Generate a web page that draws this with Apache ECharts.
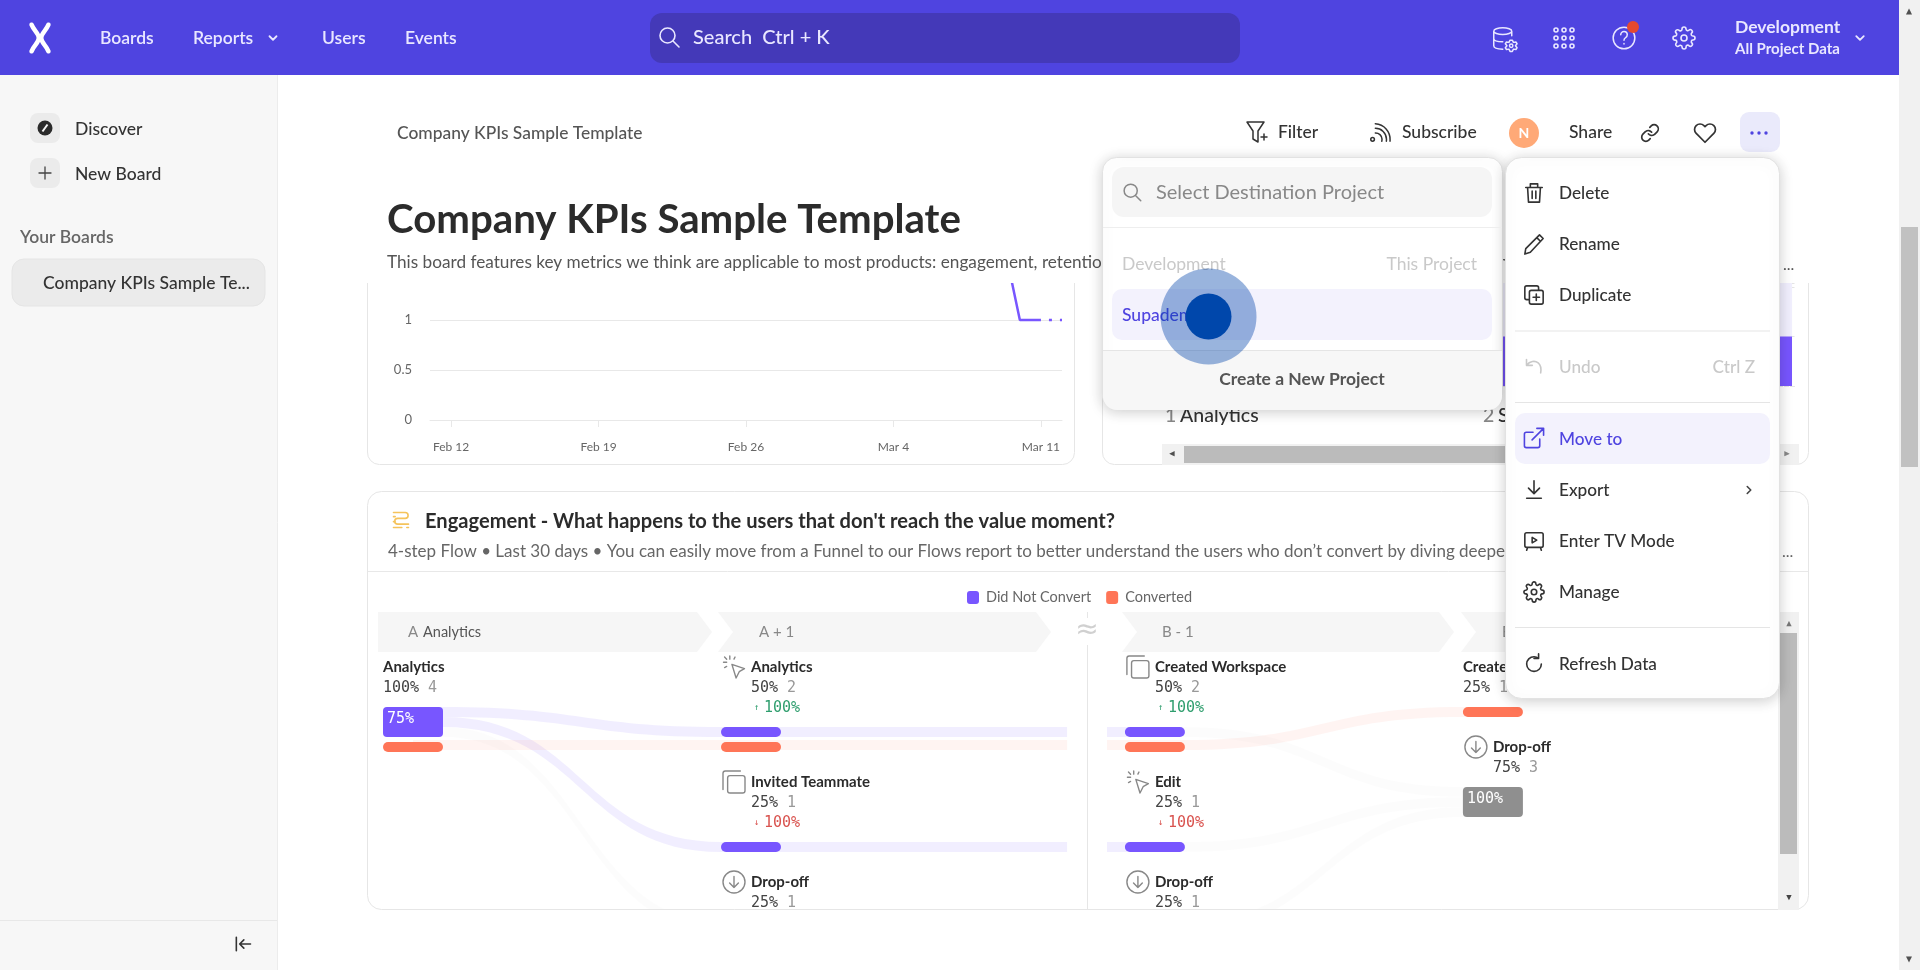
<!DOCTYPE html>
<html>
<head>
<meta charset="utf-8">
<title>Company KPIs Sample Template</title>
<script src="https://cdn.jsdelivr.net/npm/echarts@6/dist/echarts.min.js"></script>
<style>
html, body { margin: 0; padding: 0; background: #fff; overflow: hidden; }
#main { width: 1920px; height: 970px; }
</style>
</head>
<body>
<div id="main"></div>
<script>
// line chart (top left card)
const lineDates = ['Feb 11', 'Feb 12', 'Feb 13', 'Feb 14', 'Feb 15', 'Feb 16', 'Feb 17', 'Feb 18', 'Feb 19', 'Feb 20', 'Feb 21',
    'Feb 22', 'Feb 23', 'Feb 24', 'Feb 25', 'Feb 26', 'Feb 27', 'Feb 28', 'Feb 29', 'Mar 1', 'Mar 2', 'Mar 3', 'Mar 4', 'Mar 5',
    'Mar 6', 'Mar 7', 'Mar 8', 'Mar 9', 'Mar 10', 'Mar 11', 'Mar 12'];
const lineValues = [null, null, null, null, null, null, null, null, null, null, null, null, null, null, null, null, null, null,
    null, null, null, null, null, null, null, null, null, 2, 1, 1, null];
const linePartial = [null, null, null, null, null, null, null, null, null, null, null, null, null, null, null, null, null, null,
    null, null, null, null, null, null, null, null, null, null, null, 1, 1];

// funnel chart (top right card, mostly covered by the menus)
const funnelSteps = ['Analytics', 'Sign Up'];
const funnelValues = [100, 50];

// flow chart
const stepTitles = ['A', 'A + 1', 'B - 1', 'B'];
const nodeSteps = [0, 1, 1, 1, 2, 2, 2, 3, 3];
const nodeNames = ['Analytics', 'Analytics', 'Invited Teammate', 'Drop-off', 'Created Workspace', 'Edit', 'Drop-off', 'Created Workspace', 'Drop-off'];
const nodeIcons = ['', 'click', 'copy', 'drop', 'copy', 'click', 'drop', '', 'drop'];
const nodeShares = [100, 50, 25, 25, 50, 25, 25, 25, 75];
const nodeUsers = [4, 2, 1, 1, 2, 1, 1, 1, 3];
const nodeDeltas = [null, 100, -100, null, 100, -100, null, null, null];
const nodeDidNot = [3, 1, 1, 0, 1, 1, 0, 0, 0];
const nodeConverted = [1, 1, 0, 0, 1, 0, 0, 1, 0];
const nodeDropped = [0, 0, 0, 1, 0, 0, 1, 0, 3];
const linkFrom = [0, 0, 0, 0, 1, 1, 2, 3, 4, 4, 5, 6];
const linkTo = [1, 2, 3, 1, 4, 4, 5, 6, 7, 8, 8, 8];
const linkUsers = [1, 1, 1, 1, 1, 1, 1, 1, 1, 1, 1, 1];
const linkKinds = ['did', 'did', 'did', 'conv', 'did', 'conv', 'did', 'drop', 'conv', 'did', 'did', 'drop'];

const FONT = 'Lato, "Noto Sans", sans-serif';
const MONO = '"DejaVu Sans Mono", monospace';
const PURPLE = '#7856ff';
const ORANGE = '#ff7557';
const GRAY = '#8f8f8f';
const ICONS = {
    search: 'M10.5 3a7.5 7.5 0 1 0 0 15a7.5 7.5 0 1 0 0-15zM16 16l6 6',
    chevDown: 'M6 9l6 6l6-6',
    chevRight: 'M9 6l6 6l-6 6',
    db: 'M2 5a8 3 0 1 0 16 0a8 3 0 1 0-16 0M2 5v13c0 2 4 3 8 3M18 5v4M2 11.5c0 2 4 3 8 3M18.500 13l1 2l2.200-.300l1 1.500l-1.400 1.800l1.400 1.800l-1 1.500l-2.200-.300l-1 2h-2l-1-2l-2.200.300l-1-1.500l1.400-1.800l-1.400-1.800l1-1.500l2.200.300l1-2zM17.500 16.500a1.500 1.500 0 1 0 0 3a1.500 1.500 0 1 0 0-3z',
    dots: 'M4 2a2 2 0 1 0 0 4a2 2 0 1 0 0-4zM12 2a2 2 0 1 0 0 4a2 2 0 1 0 0-4zM20 2a2 2 0 1 0 0 4a2 2 0 1 0 0-4zM4 10a2 2 0 1 0 0 4a2 2 0 1 0 0-4zM12 10a2 2 0 1 0 0 4a2 2 0 1 0 0-4zM20 10a2 2 0 1 0 0 4a2 2 0 1 0 0-4zM4 18a2 2 0 1 0 0 4a2 2 0 1 0 0-4zM12 18a2 2 0 1 0 0 4a2 2 0 1 0 0-4zM20 18a2 2 0 1 0 0 4a2 2 0 1 0 0-4z',
    help: 'M12 2a10 10 0 1 0 0 20a10 10 0 1 0 0-20zM9 9a3 3 0 1 1 4.5 2.6c-1 .6-1.5 1.2-1.5 2.4M12 17v.6',
    gear: 'M19.4 15a1.65 1.65 0 0 0 .33 1.82l.06.06a2 2 0 0 1 0 2.83 2 2 0 0 1-2.83 0l-.06-.06a1.65 1.65 0 0 0-1.82-.33 1.65 1.65 0 0 0-1 1.51V21a2 2 0 0 1-2 2 2 2 0 0 1-2-2v-.09A1.65 1.65 0 0 0 9 19.4a1.65 1.65 0 0 0-1.82.33l-.06.06a2 2 0 0 1-2.83 0 2 2 0 0 1 0-2.83l.06-.06a1.65 1.65 0 0 0 .33-1.82 1.65 1.65 0 0 0-1.51-1H3a2 2 0 0 1-2-2 2 2 0 0 1 2-2h.09A1.65 1.65 0 0 0 4.6 9a1.65 1.65 0 0 0-.33-1.82l-.06-.06a2 2 0 0 1 0-2.83 2 2 0 0 1 2.83 0l.06.06a1.65 1.65 0 0 0 1.82.33H9a1.65 1.65 0 0 0 1-1.51V3a2 2 0 0 1 2-2 2 2 0 0 1 2 2v.09a1.65 1.65 0 0 0 1 1.51 1.65 1.65 0 0 0 1.82-.33l.06-.06a2 2 0 0 1 2.83 0 2 2 0 0 1 0 2.83l-.06.06a1.65 1.65 0 0 0-.33 1.82V9a1.65 1.65 0 0 0 1.51 1H21a2 2 0 0 1 2 2 2 2 0 0 1-2 2h-.09a1.65 1.65 0 0 0-1.51 1zM12 9a3 3 0 1 0 0 6a3 3 0 1 0 0-6z',
    filter: 'M2 2h17l-6 9v11l-5-3v-8zM19 14v6M16 17h6',
    rss: 'M8 13a7 7 0 0 1 7 9M8 8a12 12 0 0 1 12 14M8 3a17 17 0 0 1 16 19M5 18a2 2 0 1 0 0 4a2 2 0 1 0 0-4z',
    link: 'M10 13a5 5 0 0 0 7.54.54l3-3a5 5 0 0 0-7.07-7.07l-1.72 1.71M14 11a5 5 0 0 0-7.54-.54l-3 3a5 5 0 0 0 7.07 7.07l1.71-1.71',
    heart: 'M20.84 4.61a5.5 5.5 0 0 0-7.78 0L12 5.67l-1.06-1.06a5.5 5.5 0 0 0-7.78 7.78l1.06 1.06L12 21.23l7.78-7.78 1.06-1.06a5.5 5.5 0 0 0 0-7.78z',
    trash: 'M3 6h18M8 6V2h8v4M5 6l1 16h12l1-16M10 10v8M14 10v8',
    pencil: 'M18 2l4 4L8 21l-6 2l1-6zM15 5l4 4',
    duplicate: 'M9 7h11a2 2 0 0 1 2 2v11a2 2 0 0 1-2 2H9a2 2 0 0 1-2-2V9a2 2 0 0 1 2-2zM17 7V4a2 2 0 0 0-2-2H4a2 2 0 0 0-2 2v11a2 2 0 0 0 2 2h3M14.5 11v7M11 14.5h7',
    undo: 'M3 3v7h7M3 10c4-5 10-6 14-3c3 2.500 4 6 3 12',
    moveTo: 'M18 13v7a2 2 0 0 1-2 2H4a2 2 0 0 1-2-2V8a2 2 0 0 1 2-2h7M15 2h7v7M10 14L22 2',
    exportTo: 'M12 2v13M6 10l6 6l6-6M4 21h16',
    tv: 'M4 3h16a2 2 0 0 1 2 2v12a2 2 0 0 1-2 2H4a2 2 0 0 1-2-2V5a2 2 0 0 1 2-2zM10 8v6l5-3zM5 19l-1 3M19 19l1 3',
    refresh: 'M20 12a8 8 0 1 1-3-6.200M17 1v5h-5',
    plus: 'M12 4v16M4 12h16',
    collapse: 'M4 4v16M21 12H8M13 7l-5 5l5 5',
    flows: 'M3 3h14a3 3 0 0 1 0 7H8a3 3 0 0 0 0 7h13M3 8h2M3 14h2M19 21h2M3 21h10',
    click: 'M9 9l12 4l-5 3l-3 6zM7 1v3M1 7h3M2 2l2 2M2 12l2-1M12 2l-1 2',
    copy: 'M9 7h11a2 2 0 0 1 2 2v11a2 2 0 0 1-2 2H9a2 2 0 0 1-2-2V9a2 2 0 0 1 2-2zM18 3H5a2 2 0 0 0-2 2v14',
    drop: 'M12 2a10 10 0 1 0 0 20a10 10 0 1 0 0-20zM12 7v10M8 13l4 4l4-4',
    logo: 'M5 1c2 5 6 7 6 11s-4 6-6 11M19 1c-2 5-6 7-6 11s4 6 6 11'
};

// the graphic component has no plain path element, so paths are registered as shapes
let shapeCount = 0;
function shapeFor(d) {
    const name = 'uipath' + (shapeCount++);
    echarts.graphic.registerShape(name, echarts.graphic.extendPath(d, {}));
    return name;
}

// page furniture drawn with the graphic component
const ui = [];
function rect(x, y, w, h, fill, z, r, extra) {
    ui.push({ type: 'rect', z: z, silent: true, shape: { x: x, y: y, width: w, height: h, r: r || 0 },
        style: Object.assign({ fill: fill }, extra || {}) });
}
function hline(x1, x2, y, color, z) {
    ui.push({ type: 'line', z: z, silent: true, shape: { x1: x1, y1: y, x2: x2, y2: y }, style: { stroke: color, lineWidth: 1 } });
}
function label(str, x, y, font, color, z, align) {
    ui.push({ type: 'text', z: z, silent: true, style: { text: str, x: x, y: y + 1, font: font, fill: color, align: align || 'left', verticalAlign: 'middle' } });
}
function icon(name, cx, cy, size, color, z, width, fill) {
    const s = size / 24;
    ui.push({ type: shapeFor(ICONS[name]), z: z, silent: true, x: cx - size / 2, y: cy - size / 2, scaleX: s, scaleY: s,
        style: { stroke: color, lineWidth: width || 1.6, strokeNoScale: true, fill: fill || 'none', lineCap: 'round', lineJoin: 'round' } });
}
function shapePath(d, z, style) {
    ui.push({ type: shapeFor(d), z: z, silent: true, style: style });
}
function circle(cx, cy, r, fill, z) {
    ui.push({ type: 'circle', z: z, silent: true, shape: { cx: cx, cy: cy, r: r }, style: { fill: fill } });
}

// covers that clip the scrolled board
rect(278, 75, 1622, 208, '#fff', 10);
rect(278, 910, 1622, 60, '#fff', 10);

// header
rect(0, 0, 1899, 75, '#4f44e0', 12);
icon('logo', 40, 38, 29, '#fff', 13, 4.5);
[['Boards', 100], ['Reports', 193], ['Users', 322], ['Events', 405]].forEach(function (it) {
    label(it[0], it[1], 37, '600 17.5px ' + FONT, '#e9e7ff', 13);
});
icon('chevDown', 273, 38, 14, '#e9e7ff', 13, 1.8);
rect(650, 13, 590, 50, '#4439b8', 13, 12);
icon('search', 669, 37, 24, '#e9e7ff', 14, 1.6);
label('Search  Ctrl + K', 693, 37, '500 20px ' + FONT, '#e9e7ff', 14);
icon('db', 1505, 39, 27, '#e9e7ff', 13, 1.5);
icon('dots', 1564, 38, 24, '#e9e7ff', 13, 1.6);
icon('help', 1624, 38, 26, '#e9e7ff', 13, 1.5);
circle(1633, 27, 6, '#e5492f', 14);
icon('gear', 1684, 38, 24, '#e9e7ff', 13, 1.6);
label('Development', 1735, 26, '700 17.5px ' + FONT, '#e9e7ff', 13);
label('All Project Data', 1735, 48, '700 15px ' + FONT, '#e9e7ff', 13);
icon('chevDown', 1860, 38, 15, '#e9e7ff', 13, 1.8);

// window scrollbar
rect(1899, 0, 21, 970, '#f1f1f1', 14);
rect(1901, 227, 17, 240, '#c1c1c1', 15);
label('▲', 1909, 10, '10px ' + MONO, '#505050', 15, 'center');
label('▼', 1909, 958, '10px ' + MONO, '#505050', 15, 'center');

// sidebar
rect(0, 75, 277, 895, '#f7f7f7', 12);
ui.push({ type: 'line', z: 12, silent: true, shape: { x1: 277.5, y1: 75, x2: 277.5, y2: 970 }, style: { stroke: '#ececec' } });
rect(30, 113, 30, 30, '#ebebeb', 13, 8);
circle(45, 128, 7.5, '#2b2b2b', 14);
ui.push({ type: 'line', z: 15, silent: true, shape: { x1: 42.5, y1: 131.5, x2: 47.5, y2: 124.5 }, style: { stroke: '#f7f7f7', lineWidth: 2 } });
label('Discover', 75, 128, '500 17.5px ' + FONT, '#333', 13);
rect(30, 158, 30, 30, '#ebebeb', 13, 8);
icon('plus', 45, 173, 18, '#444', 14, 1.3);
label('New Board', 75, 173, '500 17.5px ' + FONT, '#333', 13);
label('Your Boards', 20, 236, '600 17.5px ' + FONT, '#666', 13);
rect(12, 259, 253, 47, '#ebebeb', 13, 12, { stroke: '#e5e5e5' });
label('Company KPIs Sample Te...', 43, 282, '500 17.5px ' + FONT, '#333', 14);
hline(0, 277, 920.5, '#e8e8e8', 13);
icon('collapse', 243, 944, 20, '#333', 13, 1.6);

// board toolbar and title
label('Company KPIs Sample Template', 397, 132, '500 17.4px ' + FONT, '#555', 11);
icon('filter', 1257, 132, 24, '#333', 11, 1.5);
label('Filter', 1278, 131, '500 17.5px ' + FONT, '#333', 11);
icon('rss', 1379, 132, 22, '#333', 11, 1.5);
label('Subscribe', 1402, 131, '500 17.5px ' + FONT, '#333', 11);
circle(1524, 133, 15, '#ffa977', 11);
label('N', 1524, 132, '700 14px ' + FONT, '#fff', 12, 'center');
label('Share', 1569, 131, '500 17.5px ' + FONT, '#333', 11);
icon('link', 1650, 133, 20, '#333', 11, 1.7);
icon('heart', 1705, 133, 24, '#333', 11, 1.7);
rect(1740, 112, 40, 40, '#eaeafb', 11, 9);
[1752, 1759, 1766].forEach(function (x) { circle(x, 133, 1.7, '#4f44e0', 12); });
label('Company KPIs Sample Template', 387, 219, '700 40.2px ' + FONT, '#2b2b2b', 11);
label('This board features key metrics we think are applicable to most products: engagement, retention, and conversion. Click to read more about each of the reports', 387, 261, '400 17.2px ' + FONT, '#555', 11);
rect(1781, 250, 118, 30, '#fff', 12);
label('...', 1783, 264, '400 16px ' + FONT, '#555', 12);

// top cards, open at the top because the title band scrolls over them
shapePath('M367.5 283V452a12 12 0 0 0 12 12.5H1062.5a12 12 0 0 0 12-12.5V283', 3, { stroke: '#e6e6e6', fill: 'none' });
shapePath('M1102.5 283V452a12 12 0 0 0 12 12.5H1796.5a12 12 0 0 0 12-12.5V283', 3, { stroke: '#e6e6e6', fill: 'none' });
funnelSteps.forEach(function (name, i) {
    label(String(i + 1), 1165 + 318 * i, 415, '500 19.5px ' + FONT, '#888', 3);
    label(name, 1180 + 318 * i, 415, '500 19.5px ' + FONT, '#333', 3);
});
rect(1162, 444, 637, 21, '#f1f1f1', 3);
rect(1184, 446, 500, 17, '#bbb', 4);
label('◀', 1172, 453, '9px ' + MONO, '#505050', 4, 'center');
label('▶', 1787, 453, '9px ' + MONO, '#888', 4, 'center');

// flow card
rect(367.5, 491.5, 1441, 418, 'none', 11, 14, { stroke: '#e6e6e6' });
icon('flows', 401, 520, 20, '#f5c35b', 3, 1.6);
label("Engagement - What happens to the users that don't reach the value moment?", 425, 520.5, '700 20.1px ' + FONT, '#2b2b2b', 3);
label('4-step Flow • Last 30 days • You can easily move from a Funnel to our Flows report to better understand the users who don’t convert by diving deeper', 388, 551, '400 17px ' + FONT, '#666', 3);
label('...', 1782, 551, '400 16px ' + FONT, '#666', 3);
hline(367, 1809, 571.5, '#e8e8e8', 3);

// step headers
const stepSpans = [[378, 712], [718, 1051], [1122, 1454], [1461, 1790]];
stepSpans.forEach(function (s, i) {
    const notch = i === 0 ? 0 : 15;
    const d = 'M' + s[0] + ' 612H' + (s[1] - 15) + 'L' + s[1] + ' 632L' + (s[1] - 15) + ' 652H' + s[0] + 'L' + (s[0] + notch) + ' 632Z';
    shapePath(d, 1, { fill: '#f6f6f6' });
});
label(stepTitles[0], 408, 631, '400 15px ' + FONT, '#888', 3);
label(nodeNames[0], 423, 631, '400 14.5px ' + FONT, '#555', 3);
label(stepTitles[1], 759, 631, '400 15px ' + FONT, '#888', 3);
label(stepTitles[2], 1162, 631, '400 15px ' + FONT, '#888', 3);
label(stepTitles[3], 1502, 631, '400 15px ' + FONT, '#888', 3);
ui.push({ type: 'line', z: 1, silent: true, shape: { x1: 1087.5, y1: 612, x2: 1087.5, y2: 618 }, style: { stroke: '#e6e6e6' } });
ui.push({ type: 'line', z: 1, silent: true, shape: { x1: 1087.5, y1: 645, x2: 1087.5, y2: 910 }, style: { stroke: '#e6e6e6' } });
label('≈', 1087, 630, '28px "DejaVu Sans"', '#d0d0d0', 3, 'center');

// flow card scrollbar
rect(1778, 612, 21, 298, '#f1f1f1', 12);
rect(1780, 633, 17, 221, '#bbb', 13);
label('▲', 1789, 623, '9px ' + MONO, '#777', 13, 'center');
label('▼', 1789, 897, '9px ' + MONO, '#444', 13, 'center');

// project picker popup
const popShadow = { shadowBlur: 14, shadowColor: 'rgba(0,0,0,0.2)', shadowOffsetY: 2, stroke: '#e2e2e2' };
rect(1102.5, 157.5, 400, 252, '#fff', 20, 14, popShadow);
rect(1112, 167, 380, 50, '#f5f5f5', 21, 12);
icon('search', 1132, 192, 21, '#888', 22, 1.5);
label('Select Destination Project', 1156, 192, '400 20px ' + FONT, '#888', 22);
hline(1103, 1502, 227.5, '#eee', 21);
label('Development', 1122, 263, '400 17.5px ' + FONT, '#c9c9c9', 21);
label('This Project', 1477, 263, '400 17.5px ' + FONT, '#c9c9c9', 21, 'right');
rect(1112, 289, 380, 51, '#f3f2fd', 21, 10);
label('Supademo', 1122, 314, '500 17.5px ' + FONT, '#4f44e0', 22);
shapePath('M1103 350H1502V396a14 14 0 0 1-14 14H1117a14 14 0 0 1-14-14Z', 21, { fill: '#f7f7f7' });
hline(1103, 1502, 350.5, '#e5e5e5', 21);
label('Create a New Project', 1302, 378, '700 17.5px ' + FONT, '#555', 22, 'center');

// board actions menu
rect(1505.5, 157.5, 274, 541, '#fff', 20, 16, popShadow);
const menuItems = [['trash', 'Delete', 193], ['pencil', 'Rename', 244], ['duplicate', 'Duplicate', 295],
    ['exportTo', 'Export', 490], ['tv', 'Enter TV Mode', 541], ['gear', 'Manage', 592], ['refresh', 'Refresh Data', 664]];
menuItems.forEach(function (m) {
    icon(m[0], 1534, m[2], 22, '#333', 21, 1.6);
    label(m[1], 1559, m[2] - 1, '500 17.2px ' + FONT, '#333', 21);
});
hline(1515, 1770, 331, '#e5e5e5', 21);
hline(1515, 1770, 402.5, '#e5e5e5', 21);
hline(1515, 1770, 627.5, '#e5e5e5', 21);
icon('undo', 1534, 367, 20, '#c9c9c9', 21, 1.6);
label('Undo', 1559, 366, '500 17.2px ' + FONT, '#c9c9c9', 21);
label('Ctrl Z', 1755, 366, '500 17.2px ' + FONT, '#c9c9c9', 21, 'right');
rect(1515, 413, 255, 51, '#f3f2fd', 21, 10);
icon('moveTo', 1534, 438, 23, '#4f44e0', 22, 1.6);
label('Move to', 1559, 438, '500 17.2px ' + FONT, '#4f44e0', 22);
icon('chevRight', 1749, 490, 14, '#444', 21, 1.6);

// click marker on top of everything
circle(1208.5, 316.5, 48, 'rgba(0,68,170,0.4)', 30);
circle(1208.5, 316.5, 23, '#0047ab', 31);

// flow layout, in flow-chart units: one user is one y unit, one step is one x unit
const STEP_X = [0, 1, 2.195, 3.195];
const NODE_W = 60 / 338;
const BREAK_START = 2.024;
const BREAK_END = 2.142;
const layout = {};
const colY = [0, 0, 0, 0];
nodeSteps.forEach(function (step, i) {
    const lines = nodeDeltas[i] === null ? 2 : 3;
    const top = colY[step];
    const barTop = top + lines * 2 + 1;
    let y = barTop;
    const bars = {};
    [['did', nodeDidNot[i]], ['conv', nodeConverted[i]], ['drop', nodeDropped[i]]].forEach(function (b) {
        if (b[1] > 0) { bars[b[0]] = [y, b[1]]; y += b[1] + 0.5; }
    });
    layout[i] = { top: top, barTop: barTop, bars: bars, x: STEP_X[step] };
    colY[step] = y - 0.5 + 2;
});

function laneStart(i, kind) {
    // ribbons stack a little tighter than the bars
    let y = layout[i].barTop;
    if (kind === 'conv' && nodeDidNot[i] > 0) y += nodeDidNot[i] + 0.3;
    return y;
}
const fromUsed = {};
const toUsed = {};
const ribbonRows = { did: [], conv: [], drop: [] };
linkFrom.forEach(function (from, i) {
    const to = linkTo[i];
    const kind = linkKinds[i];
    const toKind = nodeDropped[to] > 0 ? 'drop' : kind;
    const fk = from + kind;
    const tk = to + toKind;
    const y0 = laneStart(from, kind) + (fromUsed[fk] || 0);
    const y1 = laneStart(to, toKind) + (toUsed[tk] || 0);
    fromUsed[fk] = (fromUsed[fk] || 0) + linkUsers[i];
    toUsed[tk] = (toUsed[tk] || 0) + linkUsers[i];
    const broken = nodeSteps[from] === 1 ? 1 : 0;
    ribbonRows[toKind].push([layout[from].x + NODE_W / 2, y0, layout[to].x + NODE_W / 2, y1, linkUsers[i], broken]);
});

const barRows = { did: [], conv: [], drop: [] };
nodeSteps.forEach(function (step, i) {
    Object.keys(layout[i].bars).forEach(function (kind) {
        const b = layout[i].bars[kind];
        barRows[kind].push([layout[i].x, b[0], b[1], b[1] / nodeUsers[i] * 100]);
    });
});
const labelRows = nodeSteps.map(function (step, i) { return [layout[i].x, layout[i].top, i]; });

function renderRibbon(params, api) {
    const x0 = api.value(0), y0 = api.value(1), x1 = api.value(2), y1 = api.value(3), h = api.value(4), broken = api.value(5);
    const p = function (x, y) { return api.coord([x, y]).map(function (v) { return Math.round(v * 10) / 10; }).join(' '); };
    const q = function (x, y) { return api.coord([x, y]); };
    let d = '';
    if (broken) {
        const a = q(x0, y0), b = q(BREAK_START, y0 + h), c = q(BREAK_END, y1), e = q(x1, y1 + h);
        d = 'M' + a[0] + ' ' + a[1] + 'H' + b[0] + 'V' + b[1] + 'H' + a[0] + 'Z';
        d += 'M' + c[0] + ' ' + c[1] + 'H' + e[0] + 'V' + e[1] + 'H' + c[0] + 'Z';
    } else {
        const ex = x0 + NODE_W / 2, tx = x1 - NODE_W / 2, mx = (ex + tx) / 2;
        d = 'M' + p(x0, y0) + 'L' + p(ex, y0) + 'C' + p(mx, y0) + ' ' + p(mx, y1) + ' ' + p(tx, y1) + 'L' + p(x1, y1) +
            'L' + p(x1, y1 + h) + 'L' + p(tx, y1 + h) + 'C' + p(mx, y1 + h) + ' ' + p(mx, y0 + h) + ' ' + p(ex, y0 + h) + 'L' + p(x0, y0 + h) + 'Z';
    }
    return { type: 'path', shape: { pathData: d }, style: { fill: api.visual('color') } };
}

function renderBar(params, api) {
    const tl = api.coord([api.value(0), api.value(1)]);
    const size = api.size([NODE_W, api.value(2)]);
    const big = size[1] > 20;
    const kids = [{ type: 'rect', shape: { x: tl[0], y: tl[1], width: size[0], height: size[1], r: big ? 4 : size[1] / 2 }, style: { fill: api.visual('color') } }];
    if (big) {
        kids.push({ type: 'text', style: { text: api.value(3) + '%', x: tl[0] + 4, y: tl[1] + 12, font: '15px ' + MONO, fill: '#fff', verticalAlign: 'middle' } });
    }
    return { type: 'group', children: kids };
}

function renderLabels(params, api) {
    const i = api.value(2);
    const tl = api.coord([api.value(0), api.value(1)]);
    const line = api.size([0, 2])[1];
    const hasIcon = nodeIcons[i] !== '';
    const x = tl[0] + (hasIcon ? 30 : 0);
    const y = function (n) { return tl[1] + line * (n + 0.5) + (n > 0 ? 1 : 0); };
    const text = function (str, tx, n, font, fill) {
        return { type: 'text', style: { text: str, x: tx, y: y(n), font: font, fill: fill, verticalAlign: 'middle' } };
    };
    const share = nodeShares[i] + '%';
    const kids = [
        text(nodeNames[i], x, 0, '700 15px ' + FONT, '#2b2b2b'),
        text(share, x, 1, '15px ' + MONO, '#444'),
        text(String(nodeUsers[i]), x + (share.length + 1) * 9, 1, '15px ' + MONO, '#999')
    ];
    if (hasIcon) {
        kids.push({ type: 'path', shape: { pathData: ICONS[nodeIcons[i]], x: tl[0] + 2, y: tl[1] - 1, width: 22, height: 22, layout: 'center' },
            style: { stroke: '#888', lineWidth: 1.4, fill: 'none', lineCap: 'round', lineJoin: 'round' } });
    }
    if (nodeDeltas[i] !== null) {
        const up = nodeDeltas[i] > 0;
        const col = up ? '#2f9e6e' : '#d9534f';
        kids.push(text(up ? '↑' : '↓', x + 3, 2, '9px ' + MONO, col));
        kids.push(text(Math.abs(nodeDeltas[i]) + '%', x + 13, 2, '15px ' + MONO, col));
    }
    return { type: 'group', children: kids };
}

function flowSeries(name, color, ribbon, kind) {
    return [{
        name: name + ' links', type: 'custom', coordinateSystem: 'cartesian2d', xAxisIndex: 2, yAxisIndex: 2, clip: true, silent: true, z: 2,
        data: ribbonRows[kind], encode: { x: [0, 2], y: [1, 3] }, renderItem: renderRibbon,
        itemStyle: { color: ribbon }
    }, {
        name: name, type: 'custom', coordinateSystem: 'cartesian2d', xAxisIndex: 2, yAxisIndex: 2, clip: true, silent: true, z: 3,
        data: barRows[kind], encode: { x: 0, y: 1 }, renderItem: renderBar,
        itemStyle: { color: color }
    }];
}

const chart = echarts.init(document.getElementById('main'), null, { renderer: 'canvas' });
chart.setOption({
    animation: false,
    backgroundColor: '#fff',
    textStyle: { fontFamily: FONT },
    legend: {
        left: 967, top: 590, padding: 0, itemWidth: 12, itemHeight: 13, itemGap: 15,
        icon: 'roundRect', selectedMode: false, z: 4,
        data: ['Did Not Convert', 'Converted'],
        textStyle: { fontFamily: FONT, fontSize: 14.5, color: '#666', padding: [0, 0, 0, 2] }
    },
    grid: [
        { left: 430, top: 270, width: 632, height: 150 },
        { left: 1160.5, top: 283, width: 636, height: 103 },
        { left: 383, top: 657, width: 1395, height: 253 }
    ],
    xAxis: [
        {
            gridIndex: 0, type: 'category', data: lineDates, boundaryGap: false,
            axisLine: { lineStyle: { color: '#e8e8e8', width: 1 } },
            axisTick: { length: 7, lineStyle: { color: '#e8e8e8' }, interval: function (i) { return i % 7 === 1; } },
            axisLabel: { margin: 21, fontSize: 12, color: '#666', fontFamily: FONT, interval: function (i) { return i % 7 === 1; } }
        },
        { gridIndex: 1, type: 'category', data: funnelSteps, axisLine: { lineStyle: { color: '#e5e5e5', type: 'dashed' } }, axisTick: { show: false }, axisLabel: { show: false } },
        { gridIndex: 2, type: 'value', min: 0, max: 1395 / 338, show: false }
    ],
    yAxis: [
        {
            gridIndex: 0, type: 'value', min: 0, max: 1.5, interval: 0.5,
            axisLine: { show: false }, axisTick: { show: false },
            axisLabel: { margin: 18, fontSize: 13, color: '#666', fontFamily: FONT, showMaxLabel: false, padding: [2, 0, 0, 0] },
            splitLine: { lineStyle: { color: '#e8e8e8', width: 1 } }
        },
        {
            gridIndex: 1, type: 'value', min: 0, max: 104, interval: 50,
            axisLine: { show: false }, axisTick: { show: false }, axisLabel: { show: false },
            splitLine: { lineStyle: { color: '#e5e5e5', type: 'dashed' } }
        },
        { gridIndex: 2, type: 'value', inverse: true, min: 0, max: 25.3, show: false }
    ],
    series: [
        {
            name: 'Analytics', type: 'line', xAxisIndex: 0, yAxisIndex: 0, data: lineValues, showSymbol: false, z: 2, silent: true,
            lineStyle: { color: PURPLE, width: 2.5 }, itemStyle: { color: PURPLE }
        },
        {
            name: 'Analytics partial', type: 'line', xAxisIndex: 0, yAxisIndex: 0, data: linePartial, showSymbol: false, z: 2, silent: true,
            lineStyle: { color: PURPLE, width: 2.5, type: [3, 8], dashOffset: 3 }, itemStyle: { color: PURPLE }
        },
        {
            name: 'Steps', type: 'bar', xAxisIndex: 1, yAxisIndex: 1, data: funnelValues, barWidth: 309, z: 2, silent: true,
            itemStyle: { color: PURPLE }, showBackground: true, backgroundStyle: { color: '#f1effe' }
        }
    ].concat(
        flowSeries('Did Not Convert', PURPLE, 'rgba(120,86,255,0.1)', 'did'),
        flowSeries('Converted', ORANGE, 'rgba(255,117,87,0.08)', 'conv'),
        flowSeries('Drop-off', GRAY, 'rgba(0,0,0,0.012)', 'drop'),
        [{
            name: 'Flow labels', type: 'custom', coordinateSystem: 'cartesian2d', xAxisIndex: 2, yAxisIndex: 2, silent: true, z: 4,
            data: labelRows, encode: { x: 0, y: 1 }, renderItem: renderLabels
        }]
    ),
    graphic: { elements: ui }
});
</script>
</body>
</html>
